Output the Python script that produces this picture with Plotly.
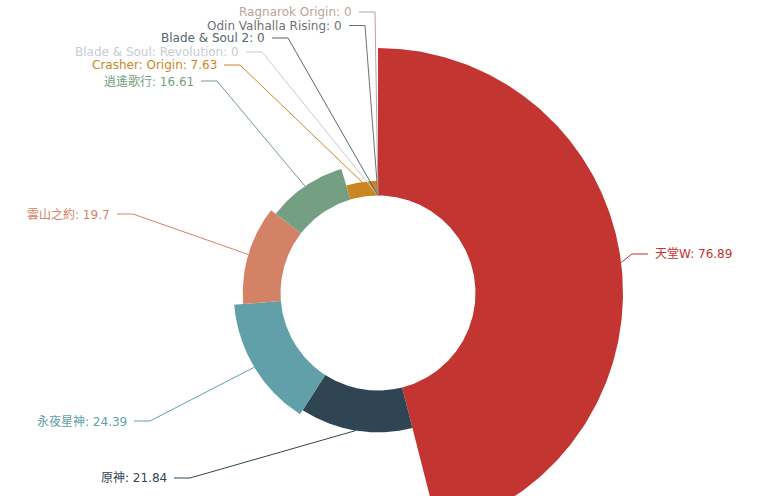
import numpy as np
import plotly.graph_objects as go

# ---- data ----
names = ["天堂W", "原神", "永夜星神", "雲山之約", "逍遙歌行", "Crasher: Origin",
         "Blade & Soul: Revolution", "Blade & Soul 2", "Odin Valhalla Rising", "Ragnarok Origin"]
values = [76.89, 21.84, 24.39, 19.7, 16.61, 7.63, 0, 0, 0, 0]
value_labels = ["76.89", "21.84", "24.39", "19.7", "16.61", "7.63", "0", "0", "0", "0"]

# ---- styles / layout ----
colors = ["#c23531", "#2f4554", "#61a0a8", "#d48265", "#749f83", "#ca8622",
          "#c4ccd3", "#546570", "#6e7074", "#bda29a"]
W, H = 773, 496
CX, CY = 378, 293          # pie centre in pixels
R_OUT, R_IN = 245, 97.5    # rose radius range
# label-line turn points (pixels) and side
turn_px = [(632, 254), (190, 478), (150, 421), (133, 214), (217, 81),
           (240, 65), (262, 52), (288, 38), (365, 25.5), (375, 12)]
sides = [1, -1, -1, -1, -1, -1, -1, -1, -1, -1]
LEN2 = 16
GAP = 5
FONT = "DejaVu Sans, Noto Sans CJK SC, sans-serif"


def to_xy(px, py):
    return px - CX, CY - py


total = sum(values)
vmax = max(values)
fig = go.Figure()

start = 0.0
mids, radii = [], []
for name, v, c in zip(names, values, colors):
    ang = v / total * 360.0
    r = R_IN + (R_OUT - R_IN) * v / vmax
    a0, a1 = start, start + ang
    mids.append((a0 + a1) / 2)
    radii.append(r)
    if v > 0:
        t = np.radians(np.linspace(a0, a1, 240))
        xs = np.concatenate([r * np.sin(t), R_IN * np.sin(t[::-1])])
        ys = np.concatenate([r * np.cos(t), R_IN * np.cos(t[::-1])])
        fig.add_trace(go.Scatter(x=np.append(xs, xs[0]), y=np.append(ys, ys[0]),
                                 mode="lines", fill="toself", fillcolor=c,
                                 line=dict(width=0, color=c), name=name,
                                 hoveron="fills", hoverinfo="text",
                                 text=f"{name}: {v}", showlegend=False))
    start = a1

annotations = []
for i, name in enumerate(names):
    th = np.radians(mids[i])
    ax, ay = radii[i] * np.sin(th), radii[i] * np.cos(th)
    tx, ty = to_xy(*turn_px[i])
    ex = tx + sides[i] * LEN2
    fig.add_trace(go.Scatter(x=[ax, tx, ex], y=[ay, ty, ty], mode="lines",
                             line=dict(color=colors[i], width=1),
                             hoverinfo="skip", showlegend=False))
    annotations.append(dict(x=ex + sides[i] * GAP, y=ty, xref="x", yref="y",
                            text=f"{name}: {value_labels[i]}", showarrow=False,
                            xanchor="left" if sides[i] > 0 else "right",
                            yanchor="middle",
                            font=dict(family=FONT, size=12, color=colors[i])))

fig.update_layout(
    width=W, height=H, margin=dict(l=0, r=0, t=0, b=0),
    paper_bgcolor="white", plot_bgcolor="white",
    xaxis=dict(range=[-CX, W - CX], visible=False, fixedrange=True),
    yaxis=dict(range=[CY - H, CY], visible=False, fixedrange=True),
    annotations=annotations, showlegend=False,
)
fig.write_html("out.html")
